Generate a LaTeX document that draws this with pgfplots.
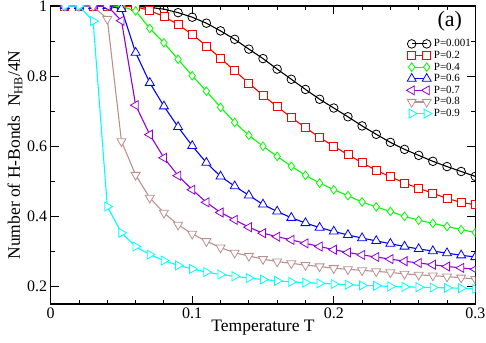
\documentclass[border=0pt]{standalone}
\usepackage{pgfplots}
\pgfplotsset{compat=1.18}
\usepackage{pgfplotstable}
\usepackage{fontspec}
\setmainfont{Liberation Serif}
\definecolor{xgred}{RGB}{255,0,0}
\definecolor{xggreen}{RGB}{0,255,0}
\definecolor{xgblue}{RGB}{0,0,255}
\definecolor{xgviolet}{RGB}{148,0,211}
\definecolor{xgbrown}{RGB}{188,143,143}
\definecolor{xgcyan}{RGB}{0,255,255}

% fraction of H-bonds vs temperature, one column per P
\pgfplotstableread{
T    pa    pb    pc    pd    pe    pf    pg
0.01 1.000 1.000 1.000 1.000 1.000 1.000 1.000
0.02 1.000 1.000 1.000 1.000 1.000 1.000 1.000
0.03 1.000 1.000 1.000 1.000 1.000 1.000 0.957
0.04 1.000 1.000 1.000 1.000 1.000 0.963 0.428
0.05 1.000 1.000 0.999 0.992 0.958 0.614 0.353
0.06 0.999 0.998 0.986 0.867 0.717 0.518 0.314
0.07 0.996 0.987 0.936 0.781 0.633 0.453 0.291
0.08 0.991 0.970 0.895 0.714 0.567 0.410 0.274
0.09 0.981 0.947 0.848 0.655 0.516 0.376 0.260
0.10 0.968 0.919 0.801 0.601 0.476 0.350 0.250
0.11 0.951 0.886 0.757 0.553 0.440 0.329 0.241
0.12 0.929 0.851 0.711 0.514 0.411 0.311 0.234
0.13 0.905 0.815 0.668 0.486 0.390 0.296 0.229
0.14 0.877 0.780 0.631 0.460 0.369 0.287 0.224
0.15 0.850 0.745 0.600 0.434 0.352 0.278 0.220
0.16 0.820 0.713 0.571 0.414 0.342 0.271 0.216
0.17 0.791 0.682 0.543 0.396 0.333 0.266 0.213
0.18 0.762 0.653 0.517 0.381 0.323 0.261 0.211
0.19 0.734 0.625 0.495 0.368 0.314 0.257 0.209
0.20 0.709 0.600 0.476 0.357 0.305 0.252 0.207
0.21 0.684 0.576 0.459 0.347 0.297 0.249 0.205
0.22 0.658 0.553 0.441 0.338 0.290 0.246 0.203
0.23 0.634 0.531 0.427 0.330 0.284 0.243 0.202
0.24 0.611 0.513 0.414 0.322 0.278 0.240 0.200
0.25 0.591 0.495 0.400 0.314 0.272 0.236 0.199
0.26 0.574 0.480 0.389 0.307 0.267 0.233 0.198
0.27 0.557 0.466 0.380 0.301 0.262 0.231 0.197
0.28 0.542 0.451 0.371 0.295 0.257 0.228 0.196
0.29 0.528 0.440 0.362 0.289 0.253 0.225 0.195
0.30 0.514 0.433 0.354 0.284 0.249 0.221 0.193
}\hbdata

\begin{document}
\begin{tikzpicture}
\begin{axis}[
  name=ax,
  scale only axis, width=424.6pt, height=298pt,
  xmin=0, xmax=0.3, ymin=0.15, ymax=1,
  xtick={0,0.1,0.2,0.3}, ytick={0.2,0.4,0.6,0.8,1},
  minor x tick num=4, minor y tick num=1,
  tick align=inside, major tick length=8pt, minor tick length=4pt,
  tick style={black, line width=0.9pt},
  axis line style={line width=1.2pt},
  /pgf/number format/assume math mode=true,
  /pgf/number format/fixed, /pgf/number format/precision=1,
  tick label style={font=\fontsize{16}{18}\selectfont},
  label style={font=\fontsize{17.5}{20}\selectfont},
  xlabel={Temperature T},
  ylabel={Number of H-Bonds\ \ N\textsubscript{HB}/4N},
  xlabel style={at={(axis description cs:0.5,-0.08)}, anchor=center},
  ylabel style={at={(axis description cs:-0.084,0.5)}, anchor=center},
  legend style={at={(0.995,0.895)}, anchor=north east, draw=none, fill=none,
    font=\fontsize{11}{12.5}\selectfont, row sep=-1.2pt, inner sep=0pt},
  legend cell align=left,
  legend image code/.code={\draw[#1] plot coordinates {(0pt,0pt) (15pt,0pt)};},
  every axis plot/.append style={line width=1.1pt},
  clip marker paths=true,
]
\addplot[black, mark=o, mark size=4.3pt, mark options={solid, fill=white, line width=0.8pt}] table[x=T, y=pa] {\hbdata};
\addlegendentry{P=0.001}
\addplot[xgred, mark=square*, mark size=4pt, mark options={solid, fill=white, line width=0.8pt}] table[x=T, y=pb] {\hbdata};
\addlegendentry{P=0.2}
\addplot[xggreen, mark=diamond*, mark size=4.3pt, mark options={solid, fill=white, line width=0.8pt}] table[x=T, y=pc] {\hbdata};
\addlegendentry{P=0.4}
\addplot[xgblue, mark=triangle*, mark size=5.2pt, mark options={solid, fill=white, line width=0.8pt}] table[x=T, y=pd] {\hbdata};
\addlegendentry{P=0.6}
\addplot[xgviolet, mark=triangle*, mark size=5.2pt, mark options={solid, fill=white, line width=0.8pt, rotate=90}] table[x=T, y=pe] {\hbdata};
\addlegendentry{P=0.7}
\addplot[xgbrown, mark=triangle*, mark size=5.2pt, mark options={solid, fill=white, line width=0.8pt, rotate=180}] table[x=T, y=pf] {\hbdata};
\addlegendentry{P=0.8}
\addplot[xgcyan, mark=triangle*, mark size=5.2pt, mark options={solid, fill=white, line width=0.8pt, rotate=270}] table[x=T, y=pg] {\hbdata};
\addlegendentry{P=0.9}
\node[font=\fontsize{22}{24}\selectfont] at (axis cs:0.282,0.956) {(a)};
\end{axis}
\pgfresetboundingbox
\path ([shift={(-50.7pt,-38pt)}]ax.south west) rectangle ([shift={(10.7pt,6pt)}]ax.north east);
\end{tikzpicture}
\end{document}
